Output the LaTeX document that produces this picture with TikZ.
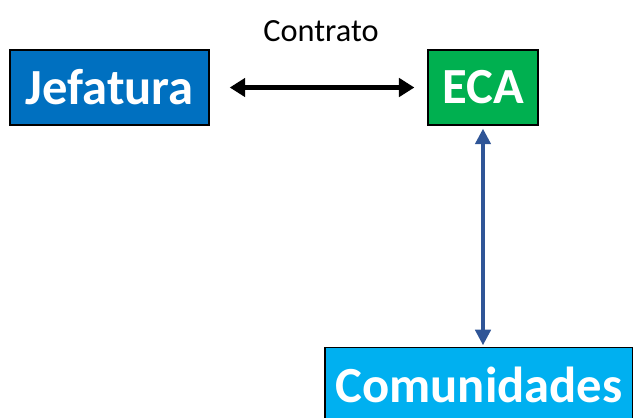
\documentclass[tikz,border=0pt]{standalone}
\usepackage{fontspec}
\setmainfont{Carlito}
\usepackage{xcolor}
\usetikzlibrary{arrows.meta}
\definecolor{jefblue}{HTML}{0070C0}
\definecolor{ecagreen}{HTML}{00B050}
\definecolor{comcyan}{HTML}{00B0F0}
\definecolor{linkblue}{HTML}{2F5597}

\begin{document}
\begin{tikzpicture}[x=0.025cm, y=0.025cm]
        \tikzstyle{every node}+=[inner sep=0pt]
        \tikzstyle{entity}=[draw=black, line width=1.3pt, text=white, font=\fontsize{36}{42}\selectfont\bfseries, minimum height=1.875cm]
        \useasboundingbox (0,0) rectangle (633,-417);
        \clip (0,0) rectangle (633,-417);
        \node [entity, fill=jefblue, minimum width=4.98cm] (jef) at (109.5,-87.5) {Jefatura};
        \node [entity, fill=ecagreen, minimum width=2.75cm] (eca) at (483,-87.5) {ECA};
        \node [entity, fill=comcyan, minimum width=7.7cm] (com) at (479,-385) {Comunidades};
        \draw [black, line width=3pt, {Triangle[length=11pt,width=13pt]}-{Triangle[length=11pt,width=13pt]}] ([xshift=14pt]jef.east) -- ([xshift=-9pt]eca.west);
        \draw (321,-31) node {\fontsize{23}{27}\selectfont Contrato};
        \draw [linkblue, line width=2.3pt, {Triangle[length=11pt,width=11pt]}-{Triangle[length=11pt,width=11pt]}] ([yshift=-2pt]eca.south) -- ([yshift=1pt]com.north -| eca.south);
\end{tikzpicture}
\end{document}
